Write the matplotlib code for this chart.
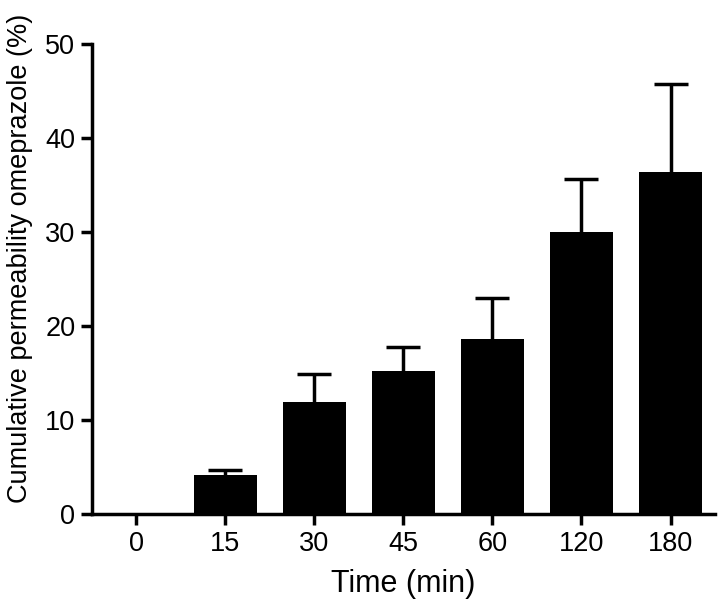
import numpy as np
import matplotlib
matplotlib.use('Agg')
import matplotlib.pyplot as plt

plt.rcParams['font.family'] = ['Liberation Sans', 'DejaVu Sans']

# data
times = ['0', '15', '30', '45', '60', '120', '180']
perm_mean = [0.0, 4.2, 11.9, 15.2, 18.6, 30.0, 36.4]
perm_sd = [0.0, 0.45, 3.0, 2.6, 4.4, 5.6, 9.3]

fig = plt.figure(figsize=(7.27, 6.12), dpi=100)
ax = fig.add_axes([0.1265, 0.160, 0.857, 0.768])

xPos = np.arange(len(times))
ax.bar(xPos, perm_mean, width=0.71, color='black', linewidth=0, zorder=2)
eb = ax.errorbar(xPos[1:], perm_mean[1:], yerr=[np.zeros(len(times) - 1), perm_sd[1:]],
                 fmt='none', ecolor='black', elinewidth=2.5, capsize=12, capthick=2.5, zorder=1)
# only keep the upper caps
for cap in eb[1]:
    if np.allclose(cap.get_ydata(), perm_mean[1:]):
        cap.set_visible(False)

ax.set_xlim(-0.5, 6.5)
ax.set_ylim(0, 50)
ax.set_yticks([0, 10, 20, 30, 40, 50])
ax.set_xticks(xPos)
ax.set_xticklabels(times)

ax.spines['top'].set_visible(False)
ax.spines['right'].set_visible(False)
ax.spines['left'].set_linewidth(2.5)
ax.spines['bottom'].set_linewidth(2.5)
ax.tick_params(axis='both', which='both', width=2.5, length=8, labelsize=19.5, pad=4)

ax.set_xlabel('Time (min)', fontsize=22, labelpad=9)
ax.set_ylabel('Cumulative permeability omeprazole (%)', fontsize=19.5)
ax.yaxis.set_label_coords(-0.095, 0.543)

fig.savefig('out.png', dpi=100)
